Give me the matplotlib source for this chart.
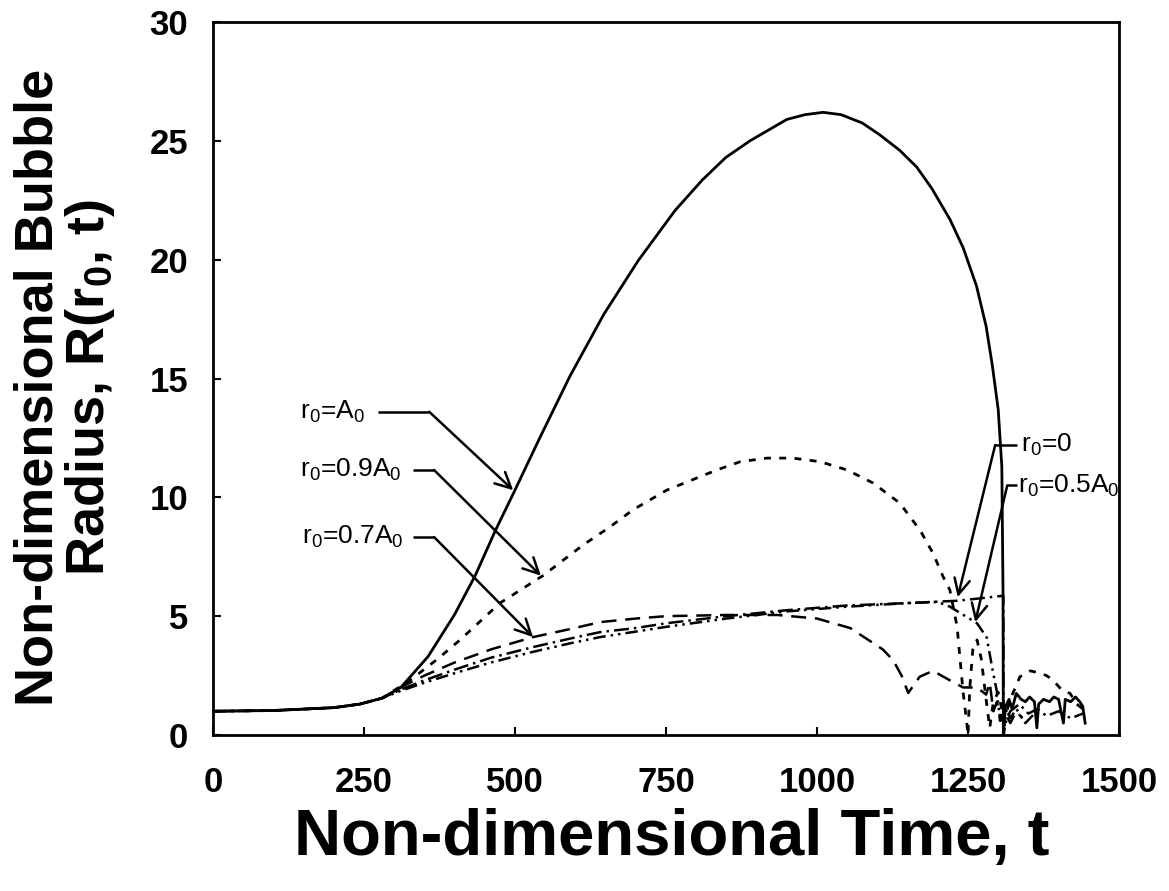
import matplotlib
matplotlib.use('Agg')
import matplotlib.pyplot as plt

plt.rcParams['font.family'] = ['Liberation Sans', 'DejaVu Sans']
plt.rcParams['mathtext.fontset'] = 'custom'
plt.rcParams['mathtext.rm'] = 'Liberation Sans'
plt.rcParams['mathtext.bf'] = 'Liberation Sans:bold'

# r0 = A0 (solid)
t_a0 = [0, 100, 200, 243, 280, 311, 356, 400, 434, 468, 498, 541, 591, 647, 704, 765, 810, 849,
        889, 950, 980, 1010, 1040, 1075, 1104, 1137, 1165, 1190, 1220, 1242, 1264, 1280, 1290,
        1300, 1306, 1308, 1308.5,
        1312, 1318, 1323, 1330, 1338, 1345, 1352, 1360, 1364, 1367, 1375, 1385, 1392, 1400,
        1408, 1411, 1420, 1428, 1435, 1440, 1444]
r_a0 = [1.0, 1.03, 1.15, 1.3, 1.55, 2.0, 3.3, 5.07, 6.7, 8.63, 10.2, 12.5, 15.1, 17.7, 19.96, 22.07, 23.35, 24.3,
        25.0, 25.9, 26.1, 26.2, 26.1, 25.75, 25.25, 24.6, 23.9, 23.0, 21.7, 20.5, 18.9, 17.2, 15.6,
        13.7, 11.3, 6.0, 0.0,
        1.2, 1.5, 1.1, 1.75, 1.5, 1.4, 1.6, 1.4, 0.3, 1.3, 1.5, 1.4, 1.6, 1.5,
        0.5, 1.5, 1.4, 1.6, 1.4, 1.2, 0.5]

# r0 = 0.9 A0 (short dash)
t_09 = [0, 100, 200, 243, 280, 326, 372, 409, 475, 546, 613, 657, 695, 751, 790, 834, 873, 917,
        960, 1005, 1050, 1093, 1137, 1171, 1192, 1209, 1220, 1232, 1237, 1242, 1248, 1250,
        1253, 1258, 1265, 1272, 1280, 1286, 1292, 1300, 1310, 1320, 1336, 1353, 1370, 1380,
        1391, 1405, 1419, 1430, 1440]
r_09 = [1.0, 1.03, 1.15, 1.3, 1.55, 2.3, 3.2, 4.0, 5.55, 6.7, 8.0, 8.75, 9.47, 10.3, 10.7, 11.15, 11.5, 11.65,
        11.65, 11.5, 11.15, 10.6, 9.76, 8.6, 7.65, 6.65, 6.1, 4.55, 3.15, 1.77, 0.5, 0.0,
        2.0, 3.6, 4.0, 3.2, 1.5, 0.3, 1.4, 1.8, 0.6, 1.5, 2.45, 2.7, 2.6, 2.5,
        2.3, 1.9, 1.75, 1.3, 1.1]

# r0 = 0.7 A0 (long dash)
t_07 = [0, 100, 200, 243, 280, 310, 350, 400, 460, 530, 590, 641, 700, 750, 850, 934, 1000, 1055,
        1109, 1126, 1140, 1151, 1170, 1192, 1220, 1242, 1265, 1280, 1286, 1292, 1298, 1304,
        1310, 1320, 1330, 1340]
r_07 = [1.0, 1.03, 1.15, 1.3, 1.55, 2.0, 2.5, 3.05, 3.6, 4.12, 4.45, 4.75, 4.9, 5.0, 5.05, 5.05, 4.9, 4.5,
        3.6, 3.15, 2.5, 1.77, 2.45, 2.7, 2.3, 2.0, 2.0, 1.7, 2.2, 1.0, 1.4, 0.6,
        1.0, 0.5, 1.0, 0.7]

# r0 = 0 (dash-dot)
t_00 = [0, 100, 200, 243, 280, 310, 350, 400, 460, 530, 590, 641, 700, 750, 850, 950, 1050, 1150,
        1233, 1270, 1305, 1308.5, 1309,
        1312, 1320, 1335, 1350, 1365, 1380, 1400, 1420, 1440]
r_00 = [1.0, 1.03, 1.15, 1.3, 1.55, 1.9, 2.3, 2.75, 3.25, 3.7, 4.05, 4.33, 4.5, 4.7, 5.0, 5.25, 5.45, 5.55,
        5.65, 5.75, 5.85, 5.85, 0.0,
        0.5, 1.0, 1.3, 0.9, 1.1, 0.8, 1.0, 0.7, 0.9]

# r0 = 0.5 A0 (dash-dot-dot)
t_05 = [0, 100, 200, 243, 280, 310, 350, 400, 460, 530, 590, 641, 700, 750, 850, 950, 1050, 1150,
        1200, 1220, 1265, 1281, 1291, 1298, 1303,
        1306, 1310, 1314, 1320, 1330, 1345, 1360]
r_05 = [1.0, 1.03, 1.15, 1.3, 1.55, 1.85, 2.2, 2.6, 3.05, 3.5, 3.85, 4.12, 4.35, 4.55, 4.9, 5.2, 5.4, 5.55,
        5.6, 5.4, 4.7, 4.1, 2.7, 1.8, 0.6,
        1.3, 0.4, 1.1, 0.7, 1.1, 0.5, 0.9]

x_ticks = [0, 250, 500, 750, 1000, 1250, 1500]
y_ticks = [0, 5, 10, 15, 20, 25, 30]

fig = plt.figure(figsize=(11.69, 8.91), dpi=100)
ax = fig.add_axes([213 / 1169, 1 - 735 / 891, 906 / 1169, 713 / 891])

ax.plot(t_a0, r_a0, color='k', lw=2.0)
ax.plot(t_09, r_09, color='k', lw=2.0, dashes=(2.5, 3))
ax.plot(t_07, r_07, color='k', lw=1.8, dashes=(6, 3.5))
ax.plot(t_00, r_00, color='k', lw=1.8, dashes=(6, 2, 1, 2))
ax.plot(t_05, r_05, color='k', lw=1.8, dashes=(5, 2, 1, 2, 1, 2))

ax.set_xlim(0, 1500)
ax.set_ylim(0, 30)
ax.set_xticks(x_ticks)
ax.set_yticks(y_ticks)
ax.tick_params(direction='in', length=6, width=1.5, labelsize=25, top=False, right=False)
ax.tick_params(axis='x', pad=22)
ax.tick_params(axis='y', pad=18)
for lab in ax.get_xticklabels() + ax.get_yticklabels():
    lab.set_fontweight('bold')
for sp in ax.spines.values():
    sp.set_linewidth(2)

# annotations: (label, text x, text y, ha, line x0, line x1, corner x, tip x, tip y)
notes = [
    (r'r$_0$=A$_0$', 252, 13.6, 'right', 273, 358, 358, 497, 10.3),
    (r'r$_0$=0.9A$_0$', 313, 11.15, 'right', 331, 366, 366, 543, 6.7),
    (r'r$_0$=0.7A$_0$', 315, 8.33, 'right', 331, 366, 366, 530, 4.12),
    (r'r$_0$=0', 1338, 12.2, 'left', 1295, 1331, 1295, 1233, 5.8),
    (r'r$_0$=0.5A$_0$', 1333, 10.5, 'left', 1315, 1331, 1315, 1262, 4.75),
]
for lab, tx, ty, ha, lx0, lx1, cx, px, py in notes:
    ax.text(tx, ty, lab, fontsize=19, ha=ha, va='center', clip_on=False)
    ax.plot([lx0, lx1], [ty, ty], color='k', lw=1.8, solid_capstyle='butt')
    ax.annotate('', xy=(px, py), xytext=(cx, ty),
                arrowprops=dict(arrowstyle='->', lw=1.8, color='k', mutation_scale=28,
                                shrinkA=0, shrinkB=0))

fig.text(0.056, 0.565, 'Non-dimensional Bubble\n' + r'Radius, R(r$_\mathbf{0}$, t)',
         rotation=90, ha='center', va='center', fontsize=39, fontweight='bold',
         multialignment='center', linespacing=1.0)
fig.text(0.575, 0.06, 'Non-dimensional Time, t', ha='center', va='center',
         fontsize=47, fontweight='bold')

fig.savefig('out.png', dpi=100)
